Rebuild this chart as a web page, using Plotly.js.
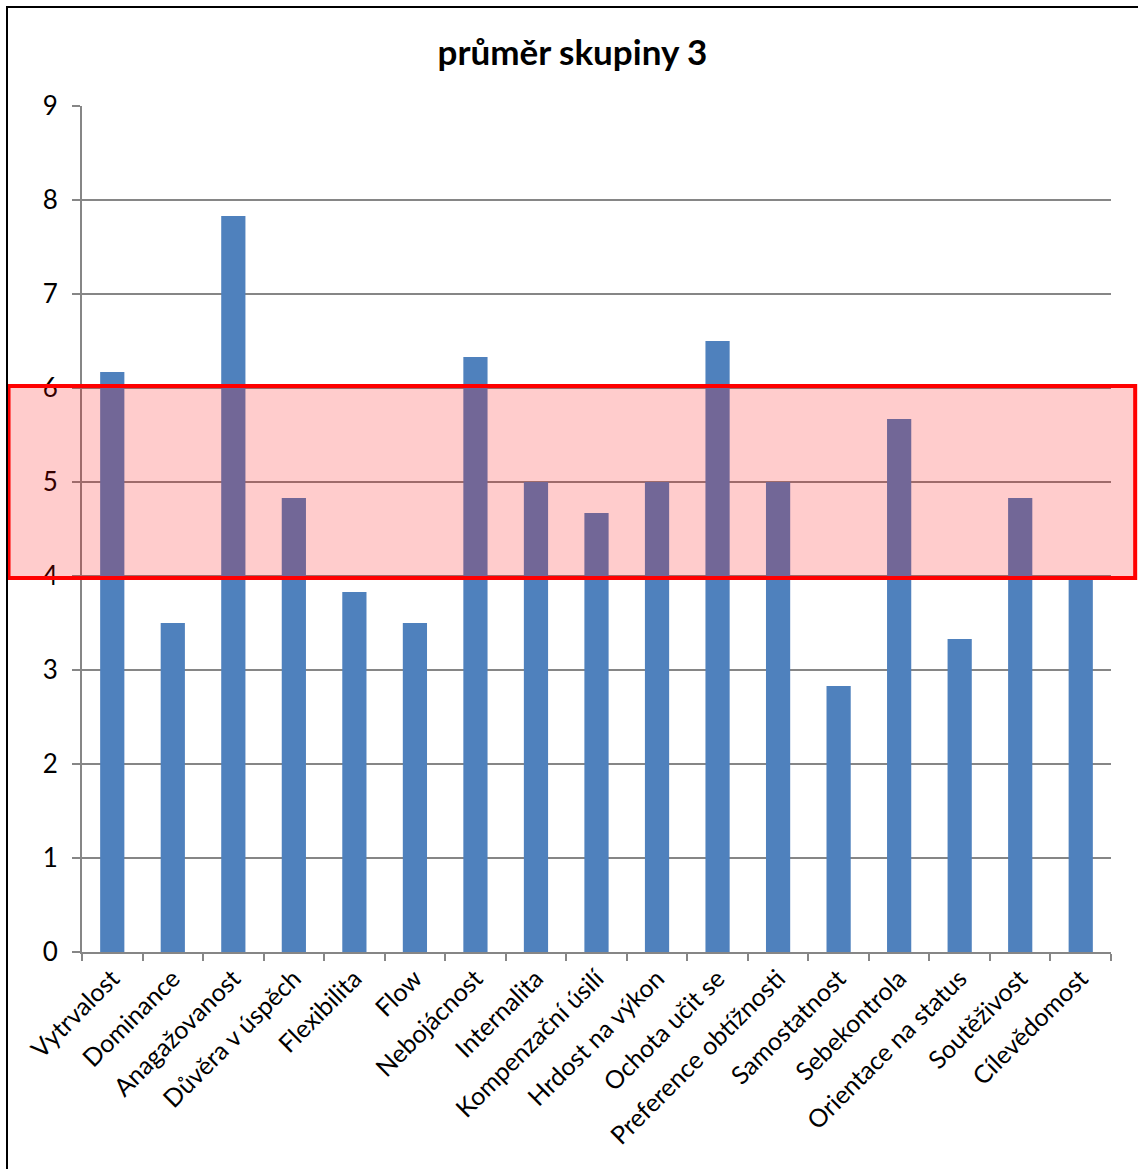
<!DOCTYPE html>
<html>
<head>
<meta charset="utf-8">
<script src="https://cdn.plot.ly/plotly-3.0.1.min.js"></script>
<style>
  html, body { margin: 0; padding: 0; overflow: hidden; background: #fff; }
  #chart { width: 1138px; height: 1169px; }
  #frame { position: absolute; left: 6px; top: 6px; width: 1150px; height: 1200px;
           border: 2px solid #000; pointer-events: none; }
</style>
</head>
<body>
<div id="chart"></div>
<div id="frame"></div>
<script>
// Průměrné skóre skupiny 3 pro jednotlivé škály
const categories = [
  "Vytrvalost", "Dominance", "Anagažovanost", "Důvěra v úspěch", "Flexibilita",
  "Flow", "Nebojácnost", "Internalita", "Kompenzační úsilí", "Hrdost na výkon",
  "Ochota učit se", "Preference obtížnosti", "Samostatnost", "Sebekontrola",
  "Orientace na status", "Soutěživost", "Cílevědomost"
];
const values = [
  6.17, 3.5, 7.83, 4.83, 3.83,
  3.5, 6.33, 5.0, 4.67, 5.0,
  6.5, 5.0, 2.83, 5.67,
  3.33, 4.83, 4.0
];
const yTicks = [0, 1, 2, 3, 4, 5, 6, 7, 8, 9];

// Zvýrazněné pásmo průměru
const bandLow = 4;
const bandHigh = 6;

const font = "Lato, 'Open Sans', sans-serif";

const trace = {
  type: "bar",
  x: categories,
  y: values,
  marker: { color: "#4F81BD", line: { width: 0 } },
  hoverinfo: "x+y"
};

const layout = {
  width: 1138,
  height: 1169,
  margin: { l: 82, r: 27, t: 106, b: 217 },
  paper_bgcolor: "#ffffff",
  plot_bgcolor: "#ffffff",
  showlegend: false,
  bargap: 0.6,
  title: {
    text: "<b>průměr skupiny 3</b>",
    font: { family: font, size: 35, color: "#000" },
    x: 0.503, xanchor: "center",
    y: 0.955, yanchor: "middle"
  },
  xaxis: {
    type: "category",
    tickangle: -45,
    tickfont: { family: font, size: 25, color: "#000" },
    showgrid: false,
    showline: true, linecolor: "#868686", linewidth: 2,
    ticks: "outside", ticklen: 7, tickcolor: "#868686", tickwidth: 2,
    tickson: "boundaries",
    zeroline: false,
    automargin: false
  },
  yaxis: {
    range: [0, 9],
    tickvals: yTicks,
    ticktext: yTicks.map(String),
    tickfont: { family: font, size: 26, color: "#000" },
    showgrid: true, gridcolor: "#868686", gridwidth: 1.5,
    showline: true, linecolor: "#868686", linewidth: 2,
    ticks: "outside", ticklen: 8, tickcolor: "#868686", tickwidth: 2,
    ticklabelstandoff: 9,
    zeroline: false,
    automargin: false
  },
  shapes: [{
    type: "rect",
    xref: "paper", yref: "y",
    x0: -0.0714, x1: 1.0235,
    y0: bandLow - 0.02, y1: bandHigh + 0.02,
    fillcolor: "rgba(255,0,0,0.2)",
    line: { color: "#FF0000", width: 4 },
    layer: "above"
  }]
};

Plotly.newPlot("chart", [trace], layout, { displayModeBar: false, staticPlot: true });
</script>
</body>
</html>
